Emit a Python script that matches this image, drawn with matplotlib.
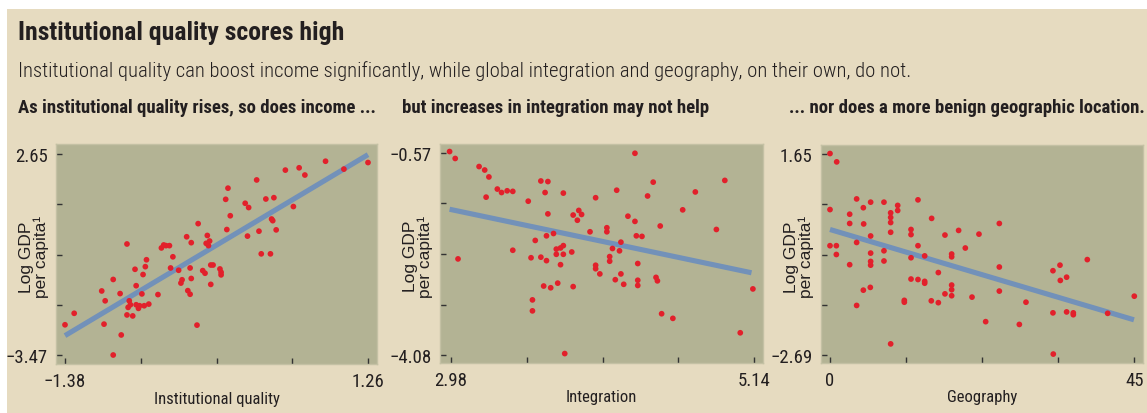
import matplotlib
matplotlib.use("Agg")
import matplotlib.pyplot as plt
import numpy as np
from matplotlib.patches import Rectangle

# ---------------- data ----------------
inst_x = [-1.38, -1.30, -1.04, -1.06, -1.03, -0.96, -0.96, -0.90, -0.89, -0.84,
          -0.84, -0.83, -0.82, -0.81, -0.79, -0.77, -0.76, -0.76, -0.74, -0.73,
          -0.71, -0.70, -0.69, -0.68, -0.67, -0.65, -0.57, -0.54, -0.52, -0.50,
          -0.47, -0.46, -0.44, -0.39, -0.37, -0.36, -0.32, -0.31, -0.29, -0.29,
          -0.28, -0.28, -0.23, -0.22, -0.18, -0.16, -0.15, -0.14, -0.13, -0.12,
          -0.11, -0.11, -0.09, -0.03, -0.02, -0.02, 0.02, 0.03, 0.04, 0.06,
          0.19, 0.21, 0.22, 0.29, 0.31, 0.33, 0.37, 0.41, 0.42, 0.43,
          0.44, 0.46, 0.54, 0.61, 0.66, 0.71, 0.89, 1.05, 1.26]
inst_y = [-2.55, -2.20, -2.53, -1.52, -1.82, -1.17, -3.47, -1.60, -2.86, -0.09,
          -2.25, -2.02, -1.82, -1.94, -2.28, -0.86, -1.36, -1.94, -2.05, -1.97,
          -1.61, -1.02, -1.97, -0.78, -0.57, -1.92, -1.63, -0.21, -0.12, -0.14,
          -0.14, -0.82, -0.48, -0.89, -1.28, -1.18, 0.13, -1.51, -1.62, -0.82,
          -0.05, -1.14, -2.56, 0.53, -0.90, -0.98, -0.07, 0.17, -0.14, 0.00,
          -0.73, -1.32, -0.73, -0.85, -0.95, -1.03, 1.27, 0.35, 1.61, 0.77,
          1.15, 0.15, 1.02, 1.86, 0.30, -0.39, 1.28, -0.39, 0.67, 0.62,
          1.32, 0.34, 2.16, 1.05, 2.23, 2.01, 2.43, 2.19, 2.39]
inst_fit_x = [-1.38, 1.26]
inst_fit_y = [-2.88, 2.63]

integ_x = [2.97, 3.01, 3.18, 3.22, 3.25, 3.23, 3.03, 3.31, 3.34, 3.38,
           3.42, 3.42, 3.53, 3.55, 3.56, 3.56, 3.58, 3.62, 3.62, 3.65,
           3.64, 3.66, 3.67, 3.66, 3.67, 3.69, 3.71, 3.73, 3.73, 3.74,
           3.76, 3.76, 3.78, 3.78, 3.78, 3.79, 3.84, 3.85, 3.85, 3.88,
           3.89, 3.91, 3.97, 4.01, 4.01, 4.01, 4.04, 4.09, 4.09, 4.11,
           4.11, 4.13, 4.15, 4.16, 4.18, 4.19, 4.19, 4.21, 4.24, 4.29,
           4.29, 4.30, 4.31, 4.31, 4.31, 4.34, 4.38, 4.42, 4.44, 4.45,
           4.47, 4.48, 4.56, 4.63, 4.72, 4.87, 4.93, 5.04, 5.13]
integ_y = [-0.55, -0.67, -0.81, -0.87, -0.99, -1.34, -2.41, -1.20, -1.26, -1.23,
           -1.24, -2.26, -1.41, -2.39, -3.12, -3.31, -2.09, -1.06, -2.38, -1.26,
           -2.88, -2.44, -1.63, -2.01, -1.07, -2.91, -1.97, -2.24, -2.33, -2.83,
           -2.51, -2.22, -1.27, -2.18, -2.33, -4.05, -2.29, -2.89, -1.65, -1.74,
           -1.57, -1.64, -1.94, -2.52, -1.35, -2.58, -2.67, -1.87, -1.94, -2.37,
           -2.45, -2.23, -2.77, -1.22, -2.27, -2.12, -2.67, -2.85, -1.67, -1.76,
           -0.58, -2.01, -2.78, -2.87, -2.49, -2.02, -1.32, -1.08, -2.73, -2.79,
           -1.84, -3.36, -3.44, -1.56, -1.25, -1.90, -1.05, -3.69, -2.93]
integ_fit_x = [2.97, 5.12]
integ_fit_y = [-1.55, -2.65]

geo_x = [0.0, 0.99, 0.0, 0.0, 0.94, 0.94, 2.91, 2.91, 2.91, 3.94,
         3.94, 3.94, 4.93, 4.98, 4.93, 6.01, 6.01, 6.01, 6.01, 6.01,
         5.96, 7.98, 7.98, 7.98, 8.97, 8.97, 8.97, 8.97, 8.97, 10.01,
         10.01, 10.99, 10.99, 11.98, 11.98, 11.98, 11.98, 13.01, 13.01, 13.01,
         14.00, 14.00, 14.00, 15.03, 14.98, 16.02, 16.02, 17.00, 17.00, 17.99,
         17.99, 17.99, 17.99, 17.99, 19.02, 20.01, 21.00, 22.03, 23.02, 25.04,
         25.04, 25.04, 28.00, 28.98, 32.97, 32.97, 33.02, 34.01, 34.06, 34.99,
         34.99, 35.98, 35.98, 38.05, 41.06, 45.0]
geo_y = [1.66, 1.48, 0.45, -0.33, -0.33, -0.52, 0.35, 0.15, -0.74, 0.68,
         -0.26, -1.62, 0.49, 0.14, -1.29, 0.61, -0.12, -0.49, -0.67, -0.75,
         -1.23, 0.61, -0.44, -0.66, 0.38, 0.28, 0.17, -0.04, -2.45, 0.54,
         0.43, -1.51, -1.55, 0.02, -0.09, -0.59, -1.05, 0.66, -0.33, -1.06,
         -0.55, -1.10, -1.14, 0.26, -1.52, -0.91, -1.56, -0.10, -1.37, -0.51,
         -0.57, -1.18, -1.28, -1.41, 0.00, -0.38, -1.44, -0.08, -1.97, 0.15,
         -0.79, -1.31, -2.03, -1.55, -0.87, -1.78, -2.67, -0.75, -1.08, -1.01,
         -1.76, -1.78, -1.82, -0.63, -1.79, -1.42]
geo_fit_x = [0.0, 44.95]
geo_fit_y = [0.02, -1.93]

x_tick_ends = [(-1.38, 1.26), (2.98, 5.14), (0, 45)]
y_tick_ends = [(-3.47, 2.65), (-4.08, -0.57), (-2.69, 1.65)]
x_tick_text = [("\u22121.38", "1.26"), ("2.98", "5.14"), ("0", "45")]
y_tick_text = [("\u22123.47", "2.65"), ("\u22124.08", "\u22120.57"), ("\u22122.69", "1.65")]
x_labels = ["Institutional quality", "Integration", "Geography"]
y_label = "Log GDP\nper capita\u00b9"

title = "Institutional quality scores high"
subtitle = ("Institutional quality can boost income significantly, while global "
            "integration and geography, on their own, do not.")
panel_titles = ["As institutional quality rises, so does income ...",
                "but increases in integration may not help",
                "... nor does a more benign geographic location."]

# ---------------- style ----------------
W, H = 1147, 414
BG = "#E6DBC0"
PANEL = "#B3B394"
DOT = "#E2202B"
LINE = "#7291B9"
TXT = "#231F20"
COND = ["Roboto Condensed", "DejaVu Sans"]
SANS = ["Liberation Sans", "DejaVu Sans"]

fig = plt.figure(figsize=(W / 100, H / 100), dpi=100, facecolor="white")
fig.add_artist(Rectangle((7 / W, 0), 1, 1 - 10 / H, transform=fig.transFigure,
                         facecolor=BG, edgecolor="none", zorder=0))

fig.text(18 / W, 1 - 40 / H, title, family=COND, weight="bold", fontsize=18.5,
         color=TXT, va="baseline", ha="left")
fig.text(18 / W, 1 - 77 / H, subtitle, family=COND, weight="light", fontsize=14.9,
         color=TXT, va="baseline", ha="left")

# axes boxes in pixels: left, right, top, bottom
boxes = [(56, 377, 145, 365), (440, 763, 145, 364), (821, 1143, 146, 364)]
# pixel positions of end ticks: x_first, x_last, y_top, y_bottom
tick_px = [(65, 368, 155, 356), (451, 754.3, 153.7, 356.3), (830, 1134.3, 155, 356)]
ptitle_x = [18, 402, 789]

series = [(inst_x, inst_y, inst_fit_x, inst_fit_y),
          (integ_x, integ_y, integ_fit_x, integ_fit_y),
          (geo_x, geo_y, geo_fit_x, geo_fit_y)]

for i in range(3):
    l, r, t, b = boxes[i]
    ax = fig.add_axes([l / W, 1 - b / H, (r - l) / W, (b - t) / H])
    ax.set_facecolor(PANEL)
    for s in ax.spines.values():
        s.set_color("#C4C1A4")
        s.set_linewidth(1.0)
    xs, ys, fx, fy = series[i]
    ax.plot(fx, fy, color=LINE, lw=3.7, solid_capstyle="butt", zorder=2)
    ax.scatter(xs, ys, s=17, color=DOT, edgecolors="none", zorder=3)

    # limits so that end ticks land on the measured pixels
    x0, x1 = x_tick_ends[i]
    px0, px1, py0, py1 = tick_px[i]
    dx = (x1 - x0) / (px1 - px0)
    ax.set_xlim(x0 - (px0 - l) * dx, x1 + (r - px1) * dx)
    y0, y1 = y_tick_ends[i]
    dy = (y1 - y0) / (py1 - py0)
    ax.set_ylim(y0 - (b - py1) * dy, y1 + (py0 - t) * dy)

    xt = np.linspace(x0, x1, 5)
    yt = np.linspace(y0, y1, 5)
    ax.set_xticks(xt)
    ax.set_yticks(yt)
    ax.set_xticklabels([x_tick_text[i][0], "", "", "", x_tick_text[i][1]])
    ax.set_yticklabels([y_tick_text[i][0], "", "", "", y_tick_text[i][1]])
    ax.tick_params(direction="in", length=4, width=1, color="#333333",
                   labelsize=13.5, labelcolor=TXT, pad=6)
    for lab in ax.get_xticklabels() + ax.get_yticklabels():
        lab.set_family(COND)

    ax.text(0.5, -0.155, x_labels[i], transform=ax.transAxes, ha="center",
            va="center", family=COND, fontsize=12, color=TXT)
    ax.text(-22 / (r - l), 0.49, y_label, transform=ax.transAxes, rotation=90,
            ha="center", va="center", multialignment="center", linespacing=0.9,
            family=SANS, fontsize=12.5, color=TXT)

    fig.text(ptitle_x[i] / W, 1 - 113 / H, panel_titles[i], family=COND,
             weight="bold", fontsize=13.5, color=TXT, va="baseline", ha="left")

fig.savefig("out.png", dpi=100, facecolor="white")
